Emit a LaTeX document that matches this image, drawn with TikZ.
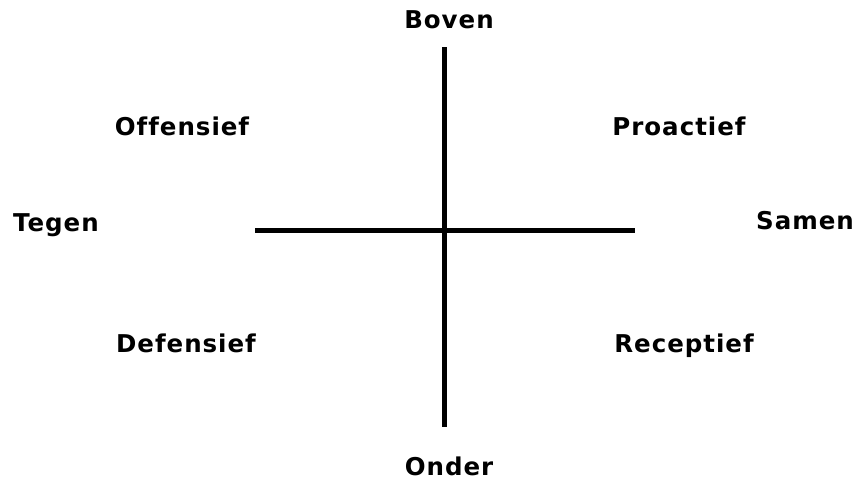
\documentclass[tikz,border=0pt]{standalone}
\usepackage{fontspec}
\setmainfont{DejaVu Sans}[Ligatures=NoCommon]
\begin{document}
\begin{tikzpicture}[
    x=1pt, y=-1pt,
    lbl/.style={anchor=base, inner sep=0pt,
        font=\fontsize{24.5}{28}\selectfont\bfseries\addfontfeatures{LetterSpace=4}},
    axis/.style={line width=5pt}
]
    \useasboundingbox (0,0) rectangle (858,480);

    \node[lbl] (boven) at (449, 28)  {Boven};
    \node[lbl] (onder) at (449, 475) {Onder};
    \node[lbl] (tegen) at (56, 231)  {Tegen};
    \node[lbl] (samen) at (805, 229) {Samen};

    \node[lbl] (off) at (182, 135) {Offensief};
    \node[lbl] (pro) at (679, 135) {Proactief};
    \node[lbl] (def) at (186, 352) {Defensief};
    \node[lbl] (rec) at (684, 352) {Receptief};

    \coordinate (top)    at (444, 47);
    \coordinate (bottom) at (444, 427);
    \coordinate (left)   at (255, 230);
    \coordinate (right)  at (635, 230);

    \draw[axis] (top) -- (bottom);
    \draw[axis] (left) -- (right);
\end{tikzpicture}
\end{document}
